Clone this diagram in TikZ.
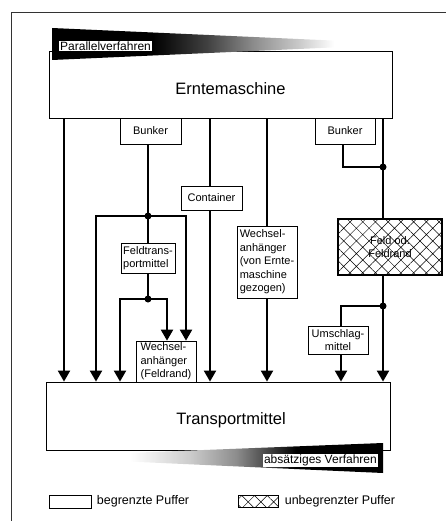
\documentclass[tikz,border=0pt]{standalone}
\usepackage{fontspec}
\setmainfont{Liberation Sans}
\usepackage{tikz}
\usetikzlibrary{arrows.meta, positioning, patterns.meta}

\pgfdeclarehorizontalshading{fadeleft}{100bp}{color(0bp)=(black); color(40bp)=(black); color(48bp)=(black!75); color(55bp)=(black!45); color(62bp)=(black!20); color(67bp)=(white); color(100bp)=(white)}
\pgfdeclarehorizontalshading{faderight}{100bp}{color(0bp)=(white); color(37bp)=(white); color(46bp)=(black!20); color(53bp)=(black!45); color(58bp)=(black!75); color(62bp)=(black); color(100bp)=(black)}

\tikzstyle{bigbox} = [rectangle, draw=black, line width=0.8pt, fill=white]
\tikzstyle{buffer} = [rectangle, draw=black, line width=0.7pt, fill=white, font=\fontsize{11}{13.5}\selectfont, align=left, inner sep=1.5pt]
\tikzstyle{field} = [rectangle, draw=black, line width=2.4pt, pattern={Hatch[angle=45,distance=9pt,line width=0.5pt]}]
\tikzstyle{flow} = [line width=2.1pt]
\tikzstyle{arrow} = [flow, -{Triangle[length=11pt,width=12pt]}]
\tikzstyle{junction} = [circle, fill=black, inner sep=0pt, minimum size=7pt]
\tikzstyle{tag} = [fill=white, inner sep=1pt, font=\fontsize{12}{14}\selectfont]
\tikzstyle{legend} = [font=\fontsize{12.5}{15}\selectfont]

\begin{document}
\begin{tikzpicture}[x=1pt, y=-1pt]
    \useasboundingbox (0,0) rectangle (446,521);
    \draw[line width=0.8pt, black!80] (11,521) -- (11,12) -- (446,12);

    % Erntemaschine
    \node (ernte) [bigbox, minimum width=343pt, minimum height=67pt,
        label={[font=\fontsize{16.5}{19}\selectfont, xshift=10pt, yshift=-4pt]center:Erntemaschine}] at (220.5,84.5) {};
    \shade[shading=fadeleft] (52,28) -- (388,43) -- (388,45) -- (52,60) -- cycle;
    \node (parallel) [tag, anchor=west] at (59,46) {Parallelverfahren};

    % Transportmittel
    \node (transport) [bigbox, minimum width=344pt, minimum height=68pt,
        label={[font=\fontsize{16.5}{19}\selectfont, xshift=13pt, yshift=-4pt]center:Transportmittel}] at (218,416) {};
    \shade[shading=faderight] (50,456) -- (383,443) -- (383,473) -- (50,458) -- cycle;
    \node (absatz) [tag, anchor=east] at (378,460.5) {absätziges Verfahren};

    % Puffer
    \node (bunkerA) [buffer, minimum width=61pt, minimum height=26pt] at (150.5,131) {Bunker};
    \node (bunkerB) [buffer, minimum width=60pt, minimum height=26pt] at (345,131) {Bunker};
    \node (container) [buffer, minimum width=61pt, minimum height=24pt] at (211.5,198) {Container};
    \node (feldtrans) [buffer, minimum width=54pt, minimum height=30pt] at (148,258) {Feldtrans-\\portmittel};
    \node (wechselA) [buffer, minimum width=60pt, minimum height=72pt] at (267,262) {Wechsel-\\anhänger\\(von Ernte-\\maschine\\gezogen)};
    \node (wechselB) [buffer, minimum width=60pt, minimum height=41pt] at (166,361.5) {Wechsel-\\anhänger\\(Feldrand)};
    \node (feld) [field, minimum width=104pt, minimum height=56pt, font=\fontsize{11}{13.5}\selectfont, align=center] at (390,247) {Feld od.\\Feldrand};
    \node (umschlag) [buffer, align=center, minimum width=60pt, minimum height=28pt] at (338,340) {Umschlag-\\mittel};

    % Spalten
    \coordinate (c1) at (64,0);
    \coordinate (c2) at (96,0);
    \coordinate (c3) at (120,0);
    \coordinate (c4) at (148,0);
    \coordinate (c5) at (167,0);
    \coordinate (c6) at (186,0);
    \coordinate (c7) at (210,0);
    \coordinate (c8) at (267,0);
    \coordinate (c9) at (341,0);
    \coordinate (c10) at (343,0);
    \coordinate (c11) at (383,0);

    % Verzweigungen
    \node (j1) [junction] at (148,216) {};
    \node (j2) [junction] at (148,299) {};
    \node (j3) [junction] at (383,167) {};
    \node (j4) [junction] at (383,306) {};

    % Pfeile
    \draw [arrow] (ernte.south -| c1) -- (transport.north -| c1);
    \draw [flow] (bunkerA.south -| c4) -- (j1.center);
    \draw [arrow] (j1.center) -| (transport.north -| c2);
    \draw [arrow] (j1.center) -| (wechselB.north -| c6);
    \draw [flow] (j1.center) -- (feldtrans.north);
    \draw [flow] (feldtrans.south) -- (j2.center);
    \draw [arrow] (j2.center) -| (transport.north -| c3);
    \draw [arrow] (j2.center) -| (wechselB.north -| c5);
    \draw [flow] (ernte.south -| c7) -- (container.north -| c7);
    \draw [arrow] (container.south -| c7) -- (transport.north -| c7);
    \draw [flow] (ernte.south -| c8) -- (wechselA.north -| c8);
    \draw [arrow] (wechselA.south -| c8) -- (transport.north -| c8);
    \draw [flow] (ernte.south -| c11) -- (feld.north -| c11);
    \draw [flow] (bunkerB.south -| c10) |- (j3.center);
    \draw [flow] (feld.south -| c11) -- (j4.center);
    \draw [arrow] (j4.center) -- (transport.north -| c11);
    \draw [flow] (j4.center) -| (umschlag.north -| c9);
    \draw [arrow] (umschlag.south -| c9) -- (transport.north -| c9);

    % Legende
    \node (legA) [bigbox, minimum width=42pt, minimum height=13pt] at (70,501.5) {};
    \node (legAtext) [legend, right=2pt of legA] {begrenzte Puffer};
    \node (legB) [field, line width=1.6pt, minimum width=40pt, minimum height=12pt] at (258.5,501.5) {};
    \node (legBtext) [legend, right=2pt of legB] {unbegrenzter Puffer};
\end{tikzpicture}
\end{document}
